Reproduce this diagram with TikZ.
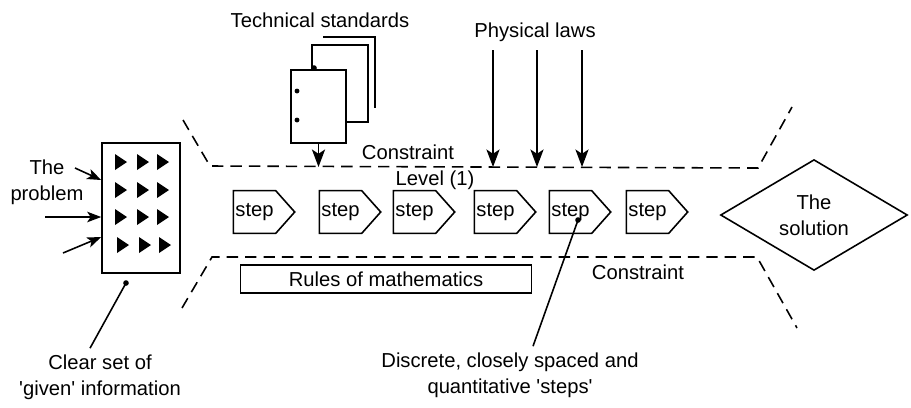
\documentclass[tikz,border=0pt]{standalone}
\usepackage{fontspec}
\setmainfont{Liberation Sans}
\usetikzlibrary{arrows.meta,positioning,shapes.geometric}

\begin{document}
\begin{tikzpicture}[x=0.02cm,y=-0.02cm,>={Stealth[length=10pt,width=7.5pt,inset=2.5pt]},
  every node/.style={font=\fontsize{11.5}{15}\selectfont},
  heavy/.style={line width=0.9pt},
  stepbox/.style={minimum width=0.82cm,minimum height=0.84cm,inner sep=1pt},
  constraint/.style={line width=0.9pt,dash pattern=on 6.5pt off 4pt},
  small arrow/.style={heavy,-{Stealth[length=8pt,width=6pt,inset=2pt]}}]
\useasboundingbox (0,0) rectangle (911,407);

% Left: the problem and the given information
\node[draw,heavy,minimum width=1.56cm,minimum height=2.6cm] (given) at (141,208) {};
\foreach \y/\d in {162/0,190/0,217/0,245/2}
  \foreach \c in {115,137,157}
    \fill ({\c+\d},{\y-8}) -- ({\c+\d+12},\y) -- ({\c+\d},{\y+8}) -- cycle;
\node[align=center] (problem) at (47,182) {The\\problem};
\coordinate (pa1) at (75,168);
\coordinate (pa2) at (45,217);
\coordinate (pa3) at (63,253);
\draw[small arrow] (pa1) -- ([shift={(0,-28)}]given.west);
\draw[small arrow] (pa2) -- ([shift={(0,9)}]given.west);
\draw[small arrow] (pa3) -- ([shift={(0,29)}]given.west);
\coordinate (gdot) at (126,283);
\fill (gdot) circle (1.6pt);
\node[align=center] (clear) at (100,377) {Clear set of\\\textquotesingle given\textquotesingle\ information};
\draw[heavy] (gdot) -- ([shift={(-10,0)}]clear.north);

% Technical standards
\node (tech) at (320,20) {Technical standards};
\draw[heavy] (323,37) -- (375,37) -- (375,108);
\draw[heavy] (312,70) -- (312,45) -- (368,45) -- (368,122) -- (346,122);
\node[draw,heavy,fill=white,minimum width=1.1cm,minimum height=1.46cm] (page) at (318.5,106.5) {};
\fill (297,91) circle (1.4pt) (297,120) circle (1.4pt) (314,68) circle (1.6pt);
\coordinate (tsin) at (318.5,167);
\draw[heavy,->] (page.south) -- (tsin);

% Physical laws
\node (phys) at (535,32) {Physical laws};
\foreach \x [count=\i] in {493,537,582} {
  \coordinate (pl\i) at (\x,50);
  \coordinate (pt\i) at (\x,167);
  \draw[heavy,->] (pl\i) -- (pt\i);
}

% Constraint boundaries
\draw[constraint] (183,120) -- (210,166) -- (758,168) -- (792,107);
\draw[constraint] (182,308) -- (212,257) -- (757,257) -- (797,328);
\node (con1) at (408,152) {Constraint};
\node (level) at (435,180) {Level (1)};
\node (con2) at (638,272) {Constraint};
\node[draw,line width=0.6pt,minimum width=5.82cm,minimum height=0.56cm] (rules) at (386,279) {Rules of mathematics};

% Steps
\foreach \x [count=\i] in {254.5,340.5,414.5,495.5,570.5,647.5} {
  \node[stepbox] (s\i) at (\x,212) {step};
  \draw[heavy] (s\i.north west) -- (s\i.north east) -- ([shift={(19,0)}]s\i.east)
    -- (s\i.south east) -- (s\i.south west) -- cycle;
}

% The solution
\node[diamond,draw,heavy,minimum width=3.74cm,minimum height=2.1cm,inner sep=0pt,align=center] (sol) at (814,215) {The\\solution};

% Pointer to the steps
\coordinate (sdot) at (578,220);
\fill (sdot) circle (1.6pt);
\node[align=center] (disc) at (510,375) {Discrete, closely spaced and\\quantitative \textquotesingle steps\textquotesingle};
\draw[heavy] (sdot) -- ([shift={(23,0)}]disc.north);
\end{tikzpicture}
\end{document}
